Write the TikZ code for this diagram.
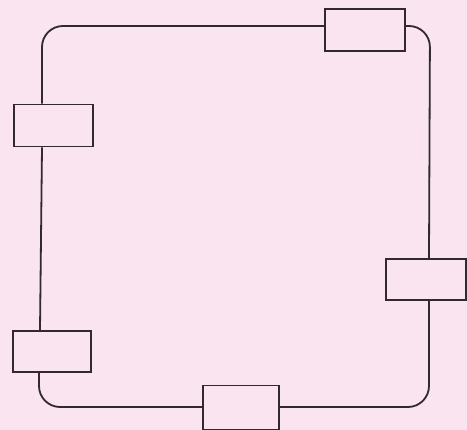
\documentclass[tikz,border=0pt]{standalone}
\usetikzlibrary{calc}
\definecolor{bgpink}{RGB}{250,228,240}
\definecolor{ink}{RGB}{50,40,48}
\begin{document}
\begin{tikzpicture}[x=1pt,y=-1pt,
  blk/.style={draw=ink,fill=bgpink,line width=1.8pt,rectangle,inner sep=0pt,minimum width=#1,minimum height=42pt},
  blk/.default=79pt,
  wire/.style={draw=ink,line width=1.8pt,rounded corners=21pt}]
\fill[bgpink] (0,0) rectangle (467,430);
\useasboundingbox (0,0) rectangle (467,430);
\node[blk=80pt] (tr) at (365,30) {};
\node[blk=79pt] (l) at (53.5,125.5) {};
\node[blk=80pt,minimum height=41pt] (r) at (426,279.5) {};
\node[blk=78pt,minimum height=41pt] (bl) at (52,351.5) {};
\node[blk=76pt,minimum height=44pt] (b) at (241,407.5) {};
\coordinate (xl1) at (42,0);
\coordinate (xl2) at (40,0);
\coordinate (xl3) at (39,0);
\coordinate (xr) at (429,0);
\coordinate (tl) at (42,26);
\coordinate (blc) at (39,407);
\coordinate (brc) at (429,407);
\coordinate (trc) at (430,26);
\draw[wire] ([yshift=4pt]tr.west) -- (tl) -- (xl1 |- l.north);
\draw[wire] (xl1 |- l.south) -- (xl2 |- bl.north);
\draw[wire] (xl3 |- bl.south) -- (blc) -- ([yshift=0.5pt]b.west);
\draw[wire] ([yshift=0.5pt]b.east) -- (brc) -- (xr |- r.south);
\draw[wire] (xr |- r.north) -- (trc) -- ([yshift=4pt]tr.east);
\end{tikzpicture}
\end{document}
